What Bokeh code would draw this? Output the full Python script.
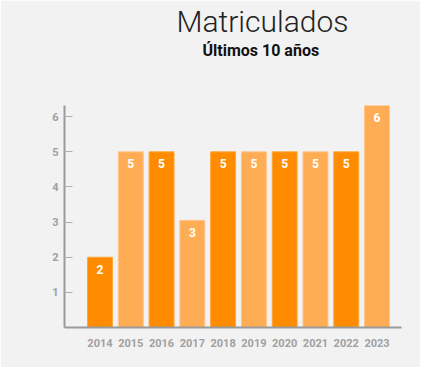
from bokeh.plotting import figure
from bokeh.models import ColumnDataSource, FixedTicker, Title
from bokeh.core.properties import value
from bokeh.embed import file_html
from bokeh.resources import INLINE

years = ["2014", "2015", "2016", "2017", "2018", "2019", "2020", "2021", "2022", "2023"]
matriculados = [2, 5, 5, 3.05, 5, 5, 5, 5, 5, 6.32]
bar_labels = ["2", "5", "5", "3", "5", "5", "5", "5", "5", "6"]
y_ticks = [1, 2, 3, 4, 5, 6]

DARK = "#FF8C00"
LIGHT = "#FFAD55"
fills = [DARK if i % 2 == 0 else LIGHT for i in range(len(years))]
borders = ["#FFA53A" if i % 2 == 0 else "#FFC58A" for i in range(len(years))]

idx = list(range(len(years)))
src = ColumnDataSource(dict(x=idx, top=matriculados, lab=bar_labels, fill=fills, border=borders))

p = figure(width=420, height=367, output_backend="svg", toolbar_location=None,
           x_range=(-1.153, 9.795), y_range=(0, 6.32),
           min_border_left=64, min_border_right=19, min_border_top=105, min_border_bottom=40,
           background_fill_color="#F2F2F2", border_fill_color="#F2F2F2")
p.outline_line_color = None
p.grid.visible = False

p.vbar(x="x", top="top", width=0.81, source=src, fill_color="fill", line_color="border", line_width=1)
p.text(x="x", y="top", text="lab", source=src, text_color="white", text_font=value("Roboto"),
       text_font_style="bold", text_font_size="12px", text_align="center", text_baseline="middle",
       y_offset=12)

xa = p.xaxis[0]
xa.ticker = FixedTicker(ticks=idx)
xa.major_label_overrides = {i: y for i, y in enumerate(years)}
xa.axis_line_color = "#9a9a9a"
xa.axis_line_width = 2
xa.major_tick_line_color = None
xa.minor_tick_line_color = None
xa.major_label_standoff = 5
xa.major_label_text_color = "#a0a0a0"
xa.major_label_text_font = "Roboto"
xa.major_label_text_font_style = "bold"
xa.major_label_text_font_size = "11px"

ya = p.yaxis[0]
ya.ticker = FixedTicker(ticks=y_ticks)
ya.axis_line_color = "#9a9a9a"
ya.axis_line_width = 2
ya.major_tick_in = 8
ya.major_tick_out = 0
ya.major_tick_line_color = "#b0b0b0"
ya.minor_tick_line_color = None
ya.major_label_standoff = 6
ya.major_label_text_color = "#a0a0a0"
ya.major_label_text_font = "Roboto"
ya.major_label_text_font_style = "bold"
ya.major_label_text_font_size = "11px"

# spacer between the frame and the subtitle
p.add_layout(Title(text=" ", text_font_size="1px", standoff=43, align="left"), "above")
p.add_layout(Title(text="Últimos 10 años", text_font="Roboto", text_font_style="bold",
                   text_font_size="16px", text_color="#111111", align="left", offset=138,
                   standoff=0), "above")
p.add_layout(Title(text="Matriculados", text_font="Roboto Light", text_font_style="normal",
                   text_font_size="30px", text_color="#222222", align="left", offset=112,
                   standoff=0), "above")

open("out.html", "w").write(file_html(p, INLINE))
